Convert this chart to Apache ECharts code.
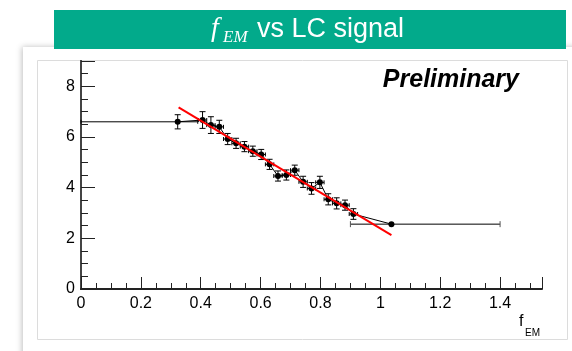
<!DOCTYPE html>
<html>
<head>
<meta charset="utf-8">
<script src="https://cdn.jsdelivr.net/npm/echarts@6/dist/echarts.min.js"></script>
<style>
html,body{margin:0;padding:0;background:#fff;}
#c{width:572px;height:351px;}
</style>
</head>
<body>
<div id="c"></div>
<script>
// ---- data ----
var xVals = [0.323, 0.406, 0.434, 0.462, 0.490, 0.518, 0.546, 0.574, 0.602, 0.630, 0.658,
             0.686, 0.714, 0.742, 0.770, 0.798, 0.826, 0.854, 0.882, 0.910, 1.037];
var yVals = [6.60, 6.67, 6.47, 6.40, 5.92, 5.75, 5.62, 5.44, 5.31, 4.92, 4.46,
             4.50, 4.69, 4.23, 3.97, 4.21, 3.54, 3.38, 3.31, 2.96, 2.56];
var yErr  = [0.28, 0.33, 0.33, 0.26, 0.22, 0.20, 0.20, 0.20, 0.20, 0.20, 0.20,
             0.20, 0.20, 0.22, 0.23, 0.24, 0.22, 0.22, 0.20, 0.21, 0.00];
var xErrLo = [0.323, 0.014, 0.014, 0.014, 0.014, 0.014, 0.014, 0.014, 0.014, 0.014, 0.014,
              0.014, 0.014, 0.014, 0.014, 0.014, 0.014, 0.014, 0.014, 0.014, 0.137];
var xErrHi = [0.067, 0.014, 0.014, 0.014, 0.014, 0.014, 0.014, 0.014, 0.014, 0.014, 0.014,
              0.014, 0.014, 0.014, 0.014, 0.014, 0.014, 0.014, 0.014, 0.014, 0.363];
var fitX = [0.326, 1.037];
var fitY = [7.17, 2.13];
var xTicks = [0, 0.2, 0.4, 0.6, 0.8, 1, 1.2, 1.4];
var yTicks = [0, 2, 4, 6, 8];
var titleParts = ['f', 'EM', 'vs LC signal'];
var xTitleParts = ['f', 'EM'];
var watermark = 'Preliminary';

// ---- chart ----
var chart = echarts.init(document.getElementById('c'), null, {renderer: 'canvas'});

var pts = xVals.map(function (x, i) { return [x, yVals[i], yErr[i], xErrLo[i], xErrHi[i]]; });
var fitData = fitX.map(function (x, i) { return [x, fitY[i]]; });

function fmt(v, list) {
  for (var i = 0; i < list.length; i++) if (Math.abs(list[i] - v) < 1e-6) return String(list[i]);
  return '';
}

var option = {
  animation: false,
  backgroundColor: '#ffffff',
  graphic: [
    // card with shadow
    {type: 'rect', z: -10, shape: {x: 23, y: 47, width: 600, height: 400},
     style: {fill: '#fff', shadowBlur: 6, shadowColor: 'rgba(0,0,0,0.25)', shadowOffsetX: -1}},
    // canvas border
    {type: 'rect', z: -9, shape: {x: 37.5, y: 60.5, width: 530, height: 279},
     style: {fill: '#fff', stroke: '#dcdcdc', lineWidth: 1}},
    // banner
    {type: 'rect', z: 10, shape: {x: 54, y: 10, width: 512, height: 39},
     style: {fill: '#02aa8b'}},
    {type: 'text', z: 11, x: 211, y: 29, style: {text: titleParts[0], fill: '#fff',
      font: 'italic 28px "Liberation Serif"', verticalAlign: 'middle'}},
    {type: 'text', z: 11, x: 223, y: 38, style: {text: titleParts[1], fill: '#fff',
      font: 'italic 17px "Liberation Serif"', verticalAlign: 'middle'}},
    {type: 'text', z: 11, x: 257, y: 30, style: {text: titleParts[2], fill: '#fff',
      font: '27px "Liberation Sans"', verticalAlign: 'middle'}},
    // Preliminary
    {type: 'text', z: 11, x: 519, y: 80, style: {text: watermark, fill: '#000',
      font: 'italic bold 25px "Liberation Sans"', align: 'right', verticalAlign: 'middle'}},
    // x axis title
    {type: 'text', z: 11, x: 519, y: 322, style: {text: xTitleParts[0], fill: '#000',
      font: '16px "Liberation Sans"', verticalAlign: 'middle'}},
    {type: 'text', z: 11, x: 525, y: 333, style: {text: xTitleParts[1], fill: '#000',
      font: '10px "Liberation Sans"', verticalAlign: 'middle'}}
  ],
  grid: {left: 81, top: 61, right: 30, bottom: 62, containLabel: false},
  xAxis: {
    type: 'value', min: 0, max: 1.54, interval: 0.2,
    axisLine: {show: true, onZero: false, lineStyle: {color: '#222', width: 2}},
    axisTick: {show: true, inside: true, length: 12, lineStyle: {color: '#222', width: 1}},
    minorTick: {show: true, splitNumber: 4, length: 6, lineStyle: {color: '#222', width: 1}},
    splitLine: {show: false},
    axisLabel: {color: '#000', fontSize: 16, fontFamily: 'Liberation Sans', margin: 7,
      showMaxLabel: false, formatter: function (v) { return fmt(v, xTicks); }}
  },
  yAxis: [{
    type: 'value', min: 0, max: 9, interval: 2,
    axisLine: {show: true, onZero: false, lineStyle: {color: '#222', width: 2}},
    axisTick: {show: true, inside: true, length: 14, lineStyle: {color: '#222', width: 1}},
    minorTick: {show: true, splitNumber: 4, length: 7, lineStyle: {color: '#222', width: 1}},
    splitLine: {show: false},
    axisLabel: {color: '#000', fontSize: 16, fontFamily: 'Liberation Sans', margin: 6,
      showMaxLabel: false, formatter: function (v) { return fmt(v, yTicks); }}
  }, {
    type: 'value', min: 0, max: 9, position: 'right',
    axisLine: {show: true, lineStyle: {color: '#444', width: 2}},
    axisTick: {show: false}, axisLabel: {show: false}, splitLine: {show: false}
  }],
  series: [
    {
      type: 'custom', z: 3, data: pts,
      renderItem: function (params, api) {
        var x = api.value(0), y = api.value(1), ey = api.value(2), exl = api.value(3), exh = api.value(4);
        var c = api.coord([x, y]);
        var top = api.coord([x, y + ey]), bot = api.coord([x, y - ey]);
        var lft = api.coord([x - exl, y]), rgt = api.coord([x + exh, y]);
        var cap = 3;
        var st = {stroke: '#000', lineWidth: 1};
        var ch = [];
        if (ey > 0) {
          ch.push({type: 'line', shape: {x1: c[0], y1: top[1], x2: c[0], y2: bot[1]}, style: st});
          ch.push({type: 'line', shape: {x1: c[0] - cap, y1: top[1], x2: c[0] + cap, y2: top[1]}, style: st});
          ch.push({type: 'line', shape: {x1: c[0] - cap, y1: bot[1], x2: c[0] + cap, y2: bot[1]}, style: st});
        }
        ch.push({type: 'line', shape: {x1: lft[0], y1: c[1], x2: rgt[0], y2: c[1]}, style: st});
        if (params.dataIndex === xVals.length - 1) {
          ch.push({type: 'line', shape: {x1: lft[0], y1: c[1] - cap, x2: lft[0], y2: c[1] + cap}, style: {stroke: '#555', lineWidth: 1}});
          ch.push({type: 'line', shape: {x1: rgt[0], y1: c[1] - cap, x2: rgt[0], y2: c[1] + cap}, style: {stroke: '#555', lineWidth: 1}});
        } else {
          ch.push({type: 'line', shape: {x1: lft[0], y1: c[1] - 2, x2: lft[0], y2: c[1] + 2}, style: st});
          ch.push({type: 'line', shape: {x1: rgt[0], y1: c[1] - 2, x2: rgt[0], y2: c[1] + 2}, style: st});
        }
        return {type: 'group', children: ch};
      }
    },
    {
      type: 'line', z: 4, data: pts.map(function (p) { return [p[0], p[1]]; }),
      symbol: 'circle', symbolSize: 6, showSymbol: true,
      lineStyle: {color: '#000', width: 1}, itemStyle: {color: '#000'}
    },
    {
      type: 'line', z: 5, data: fitData, symbol: 'none',
      lineStyle: {color: '#ff0000', width: 2}
    }
  ]
};
chart.setOption(option);
</script>
</body>
</html>
